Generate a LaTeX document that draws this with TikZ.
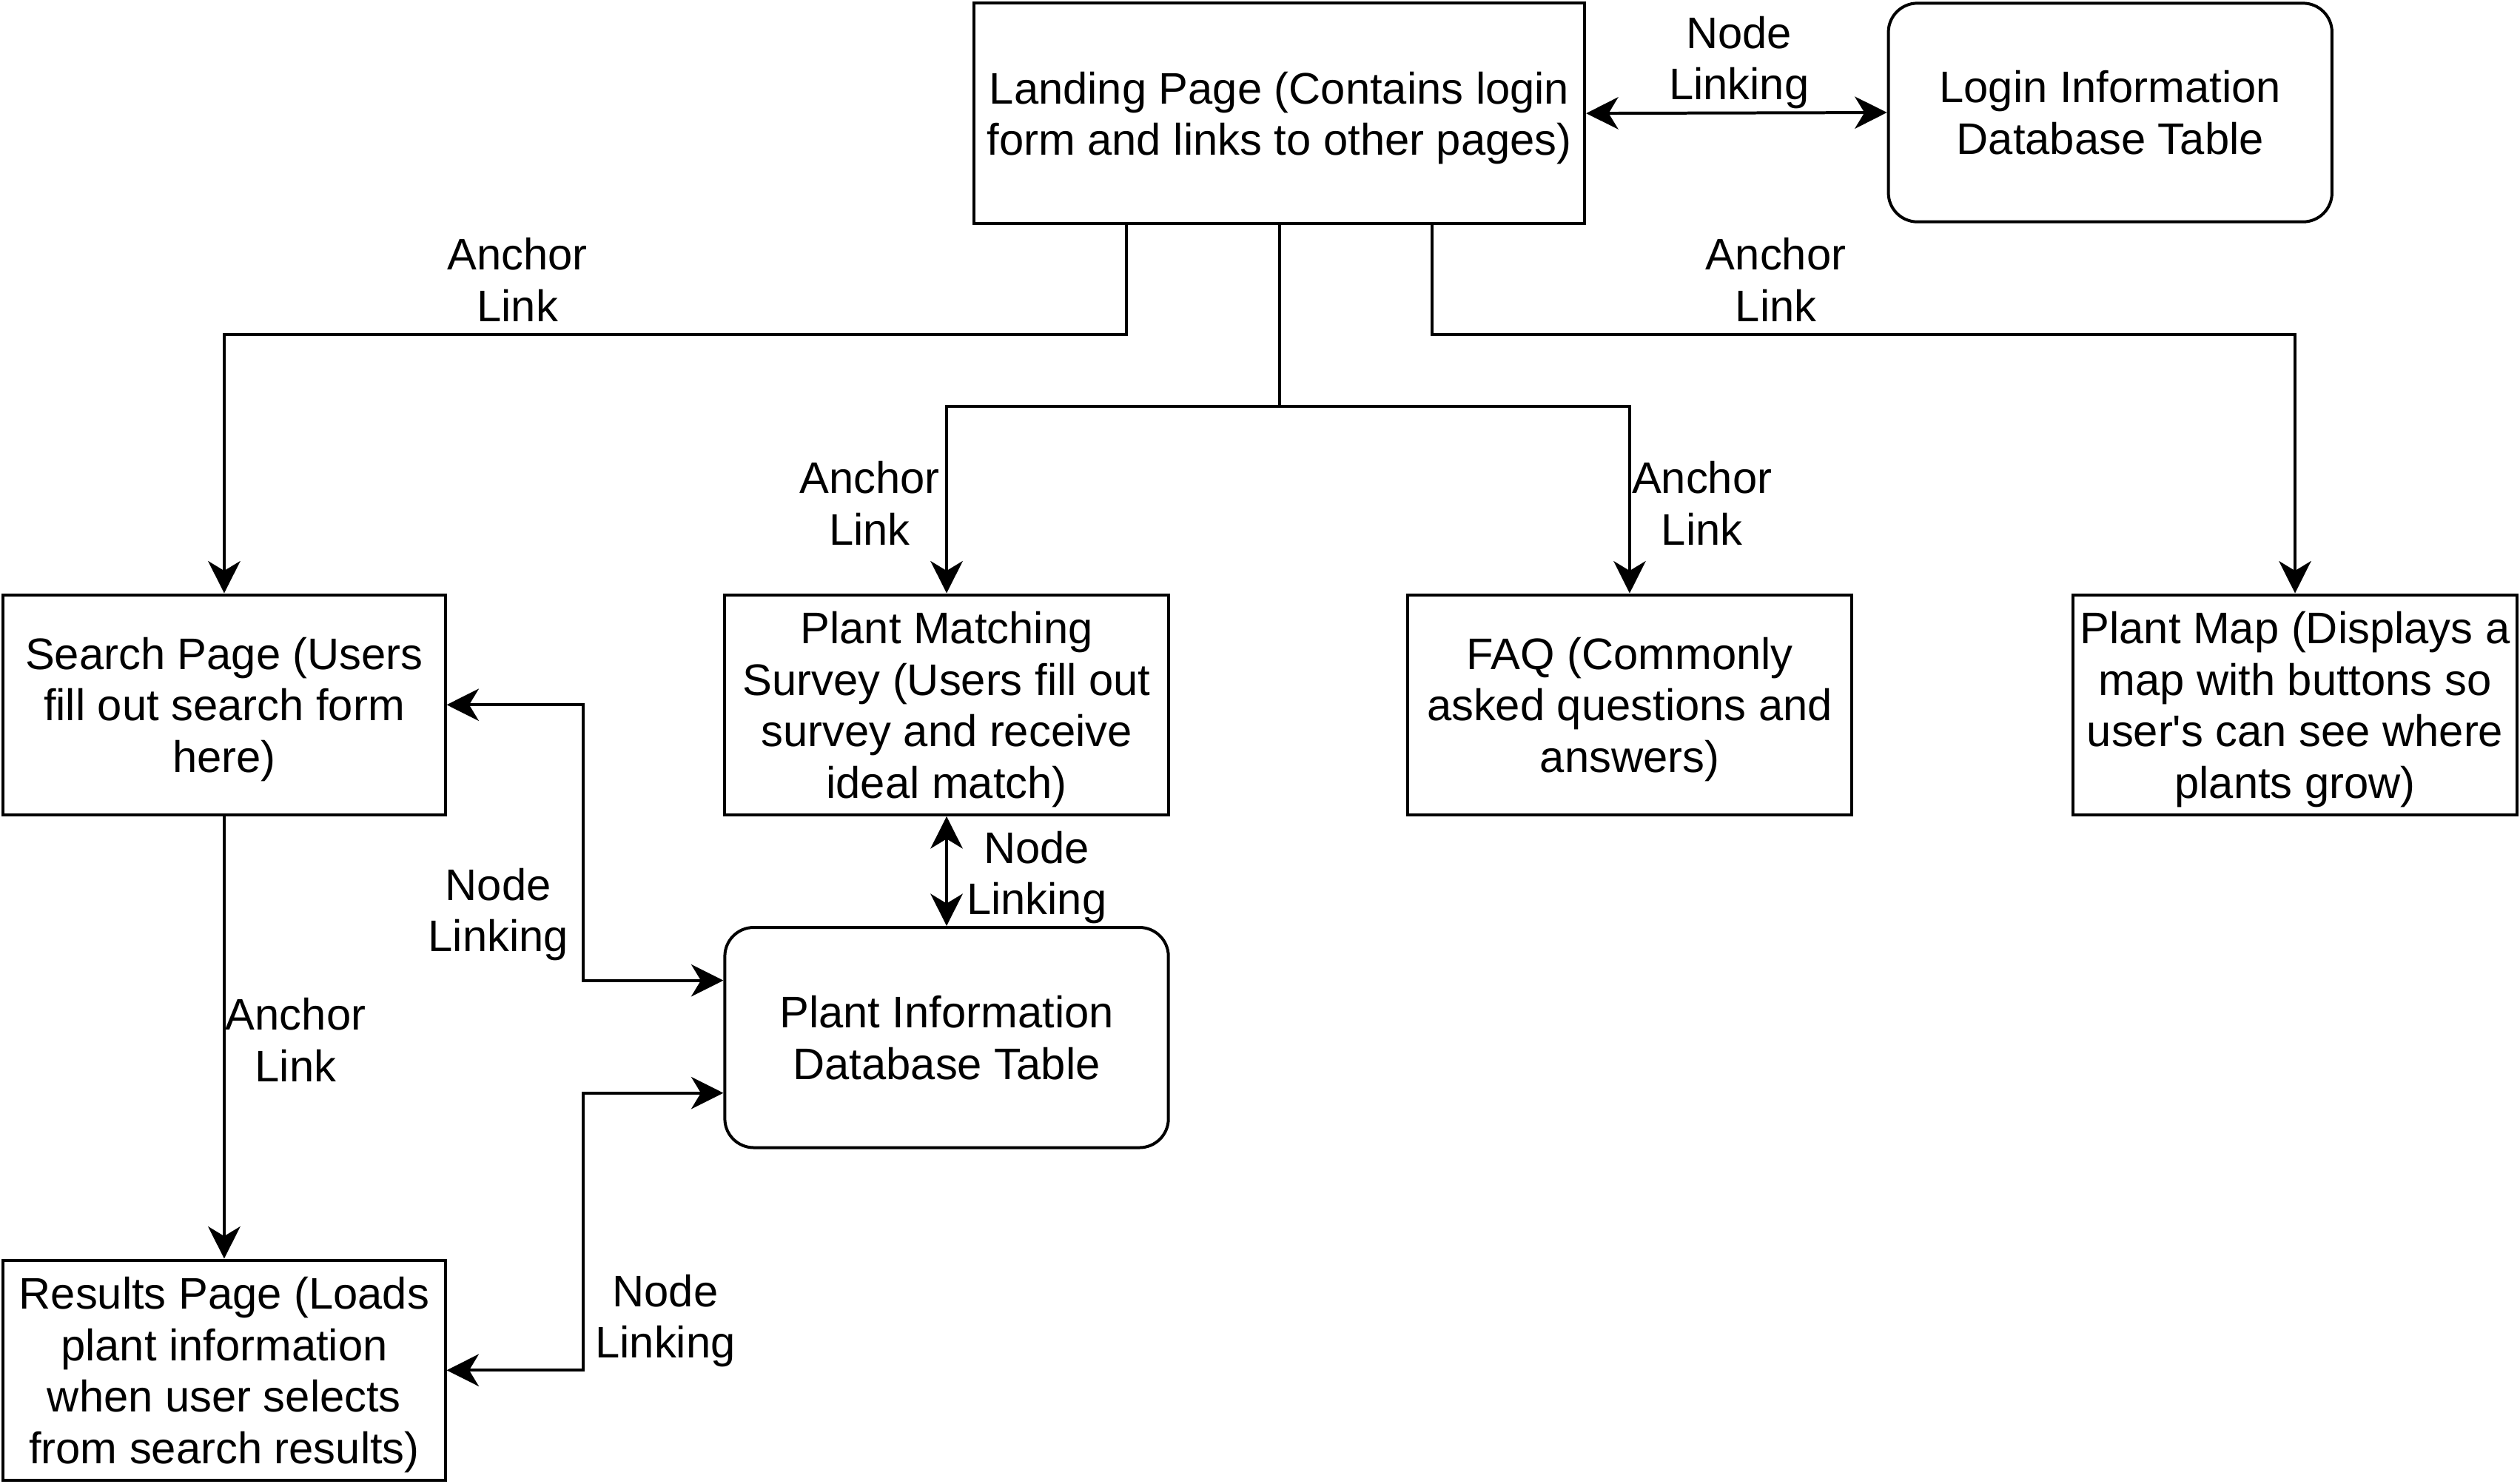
\documentclass[tikz,border=0pt]{standalone}
\usepackage{fontspec}
\setmainfont{Liberation Sans}[Ligatures=TeXOff]
\usetikzlibrary{arrows.meta,calc}
\begin{document}
\begin{tikzpicture}[x=0.5pt,y=-0.5pt,
  txt/.style={font=\fontsize{13.75}{16}\selectfont, align=center, text depth=0pt},
  box/.style={txt, draw, line width=0.92pt, minimum width=137.5pt, minimum height=68.5pt, inner sep=0pt},
  dbbox/.style={box, rounded corners=9pt},
  lbl/.style={txt, inner sep=0pt},
  tip/.tip={Stealth[length=10pt,width=10pt,inset=3pt]},
  conn/.style={line width=0.92pt, -tip},
  biconn/.style={line width=0.92pt, tip-tip}]
\useasboundingbox (0,0) rectangle (1568,923);

% nodes
\node[box, minimum width=190pt] (land) at (796,70.5) {Landing Page (Contains login\\form and links to other pages)};
\node[dbbox, minimum width=138pt, minimum height=68pt] (login) at (1313,70) {Login Information\\Database Table};
\node[box] (search) at (139.5,438.5) {Search Page (Users\\fill out search form\\here)};
\node[box, minimum width=138pt] (survey) at (589,438.5) {Plant Matching\\Survey (Users fill out\\survey and receive\\ideal match)};
\node[box, minimum width=138pt] (faq) at (1014,438.5) {FAQ (Commonly\\asked questions and\\answers)};
\node[box, minimum width=138pt] (map) at (1428,438.5) {Plant Map (Displays a\\map with buttons so\\user's can see where\\plants grow)};
\node[dbbox, minimum width=138pt] (plantdb) at (589,645.5) {Plant Information\\Database Table};
\node[box] (results) at (139.5,852.5) {Results Page (Loads\\plant information\\when user selects\\from search results)};

% connectors
\draw[biconn] (land.east) -- (login.west);
\draw[conn] (land.south -| 701,0) -- (701,208) -| (search.north);
\draw[conn] (land.south -| 891,0) -- (891,208) -| (map.north);
\draw[conn] (land.south) -- (796,253) -| (survey.north);
\draw[conn] (land.south) -- (796,253) -| (faq.north);
\draw[biconn] (survey.south) -- (plantdb.north);
\draw[biconn] (search.east) -- (363,438.5) |- ($(plantdb.west)+(0,-35.5)$);
\draw[biconn] (results.east) -- (363,852.5) |- ($(plantdb.west)+(0,34.5)$);
\draw[conn] (search.south) -- (results.north);

% labels
\node[lbl] (l1) at (1082,36) {Node\\Linking};
\node[lbl] (l2) at (322,174) {Anchor\\Link};
\node[lbl] (l3) at (1105,174) {Anchor\\Link};
\node[lbl] (l4) at (541,313) {Anchor\\Link};
\node[lbl] (l5) at (1059,313) {Anchor\\Link};
\node[lbl] (l6) at (645,543) {Node\\Linking};
\node[lbl] (l7) at (310,566) {Node\\Linking};
\node[lbl] (l8) at (184,647) {Anchor\\Link};
\node[lbl] (l9) at (414,819) {Node\\Linking};
\end{tikzpicture}
\end{document}
